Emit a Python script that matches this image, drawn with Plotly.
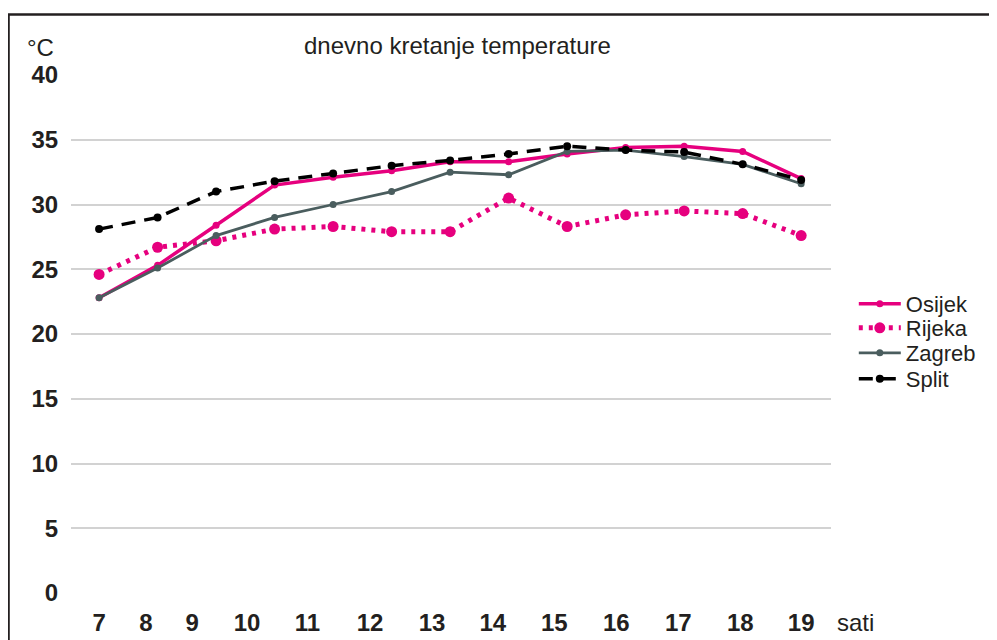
import plotly.graph_objects as go

# ---- data ----
hours = [7, 8, 9, 10, 11, 12, 13, 14, 15, 16, 17, 18, 19]
hour_labels = ["7", "8", "9", "10", "11", "12", "13", "14", "15", "16", "17", "18", "19"]
osijek = [22.8, 25.3, 28.4, 31.5, 32.1, 32.6, 33.3, 33.3, 33.9, 34.4, 34.5, 34.1, 32.0]
rijeka = [24.6, 26.7, 27.2, 28.1, 28.3, 27.9, 27.9, 30.5, 28.3, 29.2, 29.5, 29.3, 27.6]
zagreb = [22.8, 25.1, 27.6, 29.0, 30.0, 31.0, 32.5, 32.3, 34.1, 34.2, 33.7, 33.1, 31.6]
split = [28.1, 29.0, 31.0, 31.8, 32.4, 33.0, 33.4, 33.9, 34.5, 34.2, 34.05, 33.1, 31.9]
y_ticks = [0, 5, 10, 15, 20, 25, 30, 35, 40]

PINK = "#E6007E"
SLATE = "#4A5D5E"
BLACK = "#000000"
TXT = "#231F20"
FONT = "Liberation Sans, Arial, sans-serif"

fig = go.Figure()
fig.add_trace(go.Scatter(x=hours, y=osijek, name="Osijek", mode="lines+markers", legend="legend",
                         line=dict(color=PINK, width=3.5), marker=dict(color=PINK, size=7)))
fig.add_trace(go.Scatter(x=hours, y=rijeka, name="Rijeka", mode="lines+markers", legend="legend2",
                         line=dict(color=PINK, width=5, dash="4px,6px"), marker=dict(color=PINK, size=11)))
fig.add_trace(go.Scatter(x=hours, y=zagreb, name="Zagreb", mode="lines+markers", legend="legend3",
                         line=dict(color=SLATE, width=2.8), marker=dict(color=SLATE, size=7)))
fig.add_trace(go.Scatter(x=hours, y=split, name="Split", mode="lines+markers", legend="legend4",
                         line=dict(color=BLACK, width=3.5, dash="14px,9px"), marker=dict(color=BLACK, size=8)))

# label positions as placed in the original (not evenly spaced)
label_pos = [7, 7.80, 8.59, 9.53, 10.56, 11.63, 12.69, 13.73, 14.78, 15.84, 16.90, 17.96, 19]


def leg(yc):
    return dict(x=1.03, xanchor="left", y=yc, yanchor="middle",
                font=dict(size=22, family=FONT, color=TXT),
                bgcolor="rgba(0,0,0,0)", itemwidth=42, borderwidth=0)


fig.update_layout(
    width=989, height=632,
    margin=dict(l=63, r=166, t=67, b=47, autoexpand=False),
    paper_bgcolor="white", plot_bgcolor="white",
    font=dict(family=FONT, color=TXT),
    showlegend=True,
    legend=leg(0.558), legend2=leg(0.5116), legend3=leg(0.4633), legend4=leg(0.4131),
    xaxis=dict(range=[6.52, 19.51], tickmode="array", tickvals=label_pos, ticktext=hour_labels,
               showgrid=False, zeroline=False, showline=False, automargin=False,
               ticks="outside", ticklen=8, tickcolor="rgba(0,0,0,0)",
               tickfont=dict(size=24, family=FONT, weight="bold", color=TXT)),
    yaxis=dict(range=[0, 40], tickmode="array", tickvals=y_ticks,
               showgrid=True, gridcolor="#D2D2D2", gridwidth=1.5, zeroline=False, showline=False,
               automargin=False,
               ticks="outside", ticklen=7, tickcolor="rgba(0,0,0,0)",
               tickfont=dict(size=24, family=FONT, weight="bold", color=TXT)),
)

fig.add_annotation(text="dnevno kretanje temperature", xref="paper", yref="paper",
                   x=0.5086, y=1.056, showarrow=False, xanchor="center", yanchor="middle",
                   font=dict(size=24, family=FONT, color=TXT))
fig.add_annotation(text="°C", xref="paper", yref="paper",
                   x=-0.0395, y=1.054, showarrow=False, xanchor="center", yanchor="middle",
                   font=dict(size=24, family=FONT, color=TXT))
fig.add_annotation(text="sati", xref="paper", yref="paper",
                   x=1.0053, y=-0.056, showarrow=False, xanchor="left", yanchor="middle",
                   font=dict(size=24, family=FONT, color=TXT))

# partial frame around the figure
fig.add_shape(type="rect", xref="paper", yref="paper",
              x0=-0.0822, y0=-0.3, x1=1.4, y1=1.1168,
              line=dict(color=TXT, width=2.5), fillcolor="rgba(0,0,0,0)", layer="below")

fig.write_html("out.html")
